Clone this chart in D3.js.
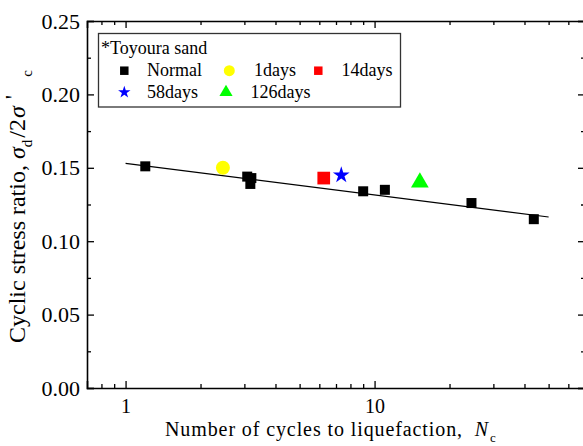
<!DOCTYPE html>
<html>
<head>
<meta charset="utf-8">
<script src="https://cdn.jsdelivr.net/npm/d3@7"></script>
<style>
  body { margin: 0; background: #fff; }
</style>
</head>
<body>
<svg id="chart" width="583" height="446"></svg>
<script>
// values
const normalN   = [1.2, 3.08, 3.2, 3.17, 9.0, 11.0, 24.5, 43.6];
const normalCSR = [0.151, 0.144, 0.143, 0.139, 0.134, 0.135, 0.126, 0.115];

const agedNames = ["1days", "14days", "58days", "126days"];
const agedN     = [2.46, 6.25, 7.35, 15.2];
const agedCSR   = [0.150, 0.143, 0.145, 0.140];

const fitN   = [1, 50];
const fitCSR = [0.153, 0.1165];

const xMajor = [1, 10];
const xMinor = [0.8, 0.9, 2, 3, 4, 5, 6, 7, 8, 9, 20, 30, 40, 50, 60];
const yMajor = [0, 0.05, 0.10, 0.15, 0.20, 0.25];
const yMinor = [0.025, 0.075, 0.125, 0.175, 0.225];

const FONT = "'Liberation Serif', 'Times New Roman', serif";

const margin = { top: 21, right: -2, bottom: 58, left: 87 },
      W = 583, H = 446,
      width = W - margin.left - margin.right,
      height = H - margin.top - margin.bottom;

const svg = d3.select("#chart").style("font-family", FONT);
const chart = svg.append("g")
  .attr("transform", "translate(" + margin.left + "," + margin.top + ")");

const x = d3.scaleLog().domain([0.7, 70]).range([0, width]);
const y = d3.scaleLinear().domain([0, 0.25]).range([height, 0]);

// axes: ticks point inward on all four sides
function styleAxis(g, size) {
  g.attr("font-family", null);
  g.selectAll("path.domain").attr("stroke", "#000").attr("stroke-width", 1.6);
  g.selectAll(".tick line").attr("stroke", "#000").attr("stroke-width", 1.3);
  g.selectAll("text").style("font-size", (size || 21) + "px").style("font-family", FONT).attr("fill", "#000");
}

chart.append("g")
  .attr("transform", "translate(0," + height + ")")
  .call(d3.axisBottom(x).tickValues(xMajor).tickSize(-7).tickPadding(11).tickFormat(d3.format("d")))
  .call(styleAxis, 20);
chart.append("g")
  .attr("transform", "translate(0," + height + ")")
  .call(d3.axisBottom(x).tickValues(xMinor).tickSize(-4).tickFormat(""))
  .call(g => g.select(".domain").remove())
  .call(styleAxis);

chart.append("g")
  .call(d3.axisTop(x).tickValues(xMajor).tickSize(-7).tickFormat(""))
  .call(styleAxis);
chart.append("g")
  .call(d3.axisTop(x).tickValues(xMinor).tickSize(-4).tickFormat(""))
  .call(g => g.select(".domain").remove())
  .call(styleAxis);

chart.append("g")
  .call(d3.axisLeft(y).tickValues(yMajor).tickSize(-7).tickPadding(7).tickFormat(d3.format(".2f")))
  .call(styleAxis, 22);
chart.append("g")
  .call(d3.axisLeft(y).tickValues(yMinor).tickSize(-4).tickFormat(""))
  .call(g => g.select(".domain").remove())
  .call(styleAxis);

chart.append("g")
  .attr("transform", "translate(" + width + ",0)")
  .call(d3.axisRight(y).tickValues(yMajor).tickSize(-7).tickFormat(""))
  .call(styleAxis);
chart.append("g")
  .attr("transform", "translate(" + width + ",0)")
  .call(d3.axisRight(y).tickValues(yMinor).tickSize(-4).tickFormat(""))
  .call(g => g.select(".domain").remove())
  .call(styleAxis);

// fitted trend line
const line = d3.line().x(d => x(d[0])).y(d => y(d[1]));
chart.append("path")
  .datum(fitN.map((n, i) => [n, fitCSR[i]]))
  .attr("d", line)
  .attr("fill", "none")
  .attr("stroke", "#000")
  .attr("stroke-width", 1.2);

// normal samples
chart.selectAll(".normal")
  .data(normalN.map((n, i) => [n, normalCSR[i]]))
  .enter().append("path")
  .attr("class", "normal")
  .attr("transform", d => "translate(" + x(d[0]) + "," + y(d[1]) + ")")
  .attr("d", d3.symbol(d3.symbolSquare, 100)())
  .attr("fill", "#000");

// aged samples
const agedStyle = {
  "1days":   { sym: d3.symbolCircle,   size: 154, leg: 95,  color: "#ffff00" },
  "14days":  { sym: d3.symbolSquare,   size: 161, leg: 72,  color: "#ff0000" },
  "58days":  { sym: d3.symbolStar,     size: 87,  leg: 48,  color: "#0000ff" },
  "126days": { sym: d3.symbolTriangle, size: 136, leg: 75,  color: "#00ff00" }
};

chart.selectAll(".aged")
  .data(agedNames.map((name, i) => ({ name: name, n: agedN[i], csr: agedCSR[i] })))
  .enter().append("path")
  .attr("class", "aged")
  .attr("transform", d => "translate(" + x(d.n) + "," + y(d.csr) + ")")
  .attr("d", d => d3.symbol(agedStyle[d.name].sym, agedStyle[d.name].size)())
  .attr("fill", d => agedStyle[d.name].color);

// legend
const legend = svg.append("g");
legend.append("rect")
  .attr("x", 98.5).attr("y", 33.5)
  .attr("width", 302).attr("height", 73.5)
  .attr("fill", "#fff")
  .attr("stroke", "#333")
  .attr("stroke-width", 1.3);
legend.append("text")
  .attr("x", 101).attr("y", 54)
  .style("font-family", FONT)
  .style("font-size", "18px")
  .text("*Toyoura sand");

const legendItems = [
  { name: "Normal",  sym: d3.symbolSquare, size: 72, color: "#000", sx: 124.3, tx: 147, row: 0 },
  { name: "1days",   sym: agedStyle["1days"].sym,   size: agedStyle["1days"].leg,   color: agedStyle["1days"].color,   sx: 229.3, tx: 254, row: 0 },
  { name: "14days",  sym: agedStyle["14days"].sym,  size: agedStyle["14days"].leg,  color: agedStyle["14days"].color,  sx: 318.3, tx: 341.5, row: 0 },
  { name: "58days",  sym: agedStyle["58days"].sym,  size: agedStyle["58days"].leg,  color: agedStyle["58days"].color,  sx: 124.3, tx: 147, row: 1 },
  { name: "126days", sym: agedStyle["126days"].sym, size: agedStyle["126days"].leg, color: agedStyle["126days"].color, sx: 226, tx: 250.5, row: 1 }
];
const rowY = [70.7, 92.3];

legendItems.forEach(it => {
  legend.append("path")
    .attr("transform", "translate(" + it.sx + "," + rowY[it.row] + ")")
    .attr("d", d3.symbol(it.sym, it.size)())
    .attr("fill", it.color);
  legend.append("text")
    .attr("x", it.tx).attr("y", rowY[it.row] + 5.5)
    .style("font-family", FONT)
    .style("font-size", "18px")
    .text(it.name);
});

// axis titles
const xt = svg.append("text")
  .attr("x", 165)
  .attr("y", 436)
  .style("font-family", FONT)
  .style("font-size", "20px")
  .style("letter-spacing", "0.9px");
xt.append("tspan").text("Number of cycles to liquefaction,\u00a0\u00a0");
xt.append("tspan").attr("font-style", "italic").text("N");
xt.append("tspan").style("font-size", "13px").attr("dy", 6).attr("dx", 1).text("c");

const yt = svg.append("text")
  .attr("transform", "translate(25,343) rotate(-90)")
  .style("font-family", FONT)
  .style("font-size", "24px");
yt.append("tspan").text("Cyclic stress ratio, ");
yt.append("tspan").attr("font-style", "italic").text("\u03c3");
yt.append("tspan").style("font-size", "15px").attr("dy", 7).text("d");
yt.append("tspan").attr("dy", -7).attr("dx", 2).text("/2");
yt.append("tspan").attr("font-style", "italic").attr("dx", 1).text("\u03c3");
yt.append("tspan").attr("dy", -4).attr("dx", 7).text("'");
yt.append("tspan").style("font-size", "15px").attr("dy", 11).attr("dx", 18).text("c");
</script>
</body>
</html>
